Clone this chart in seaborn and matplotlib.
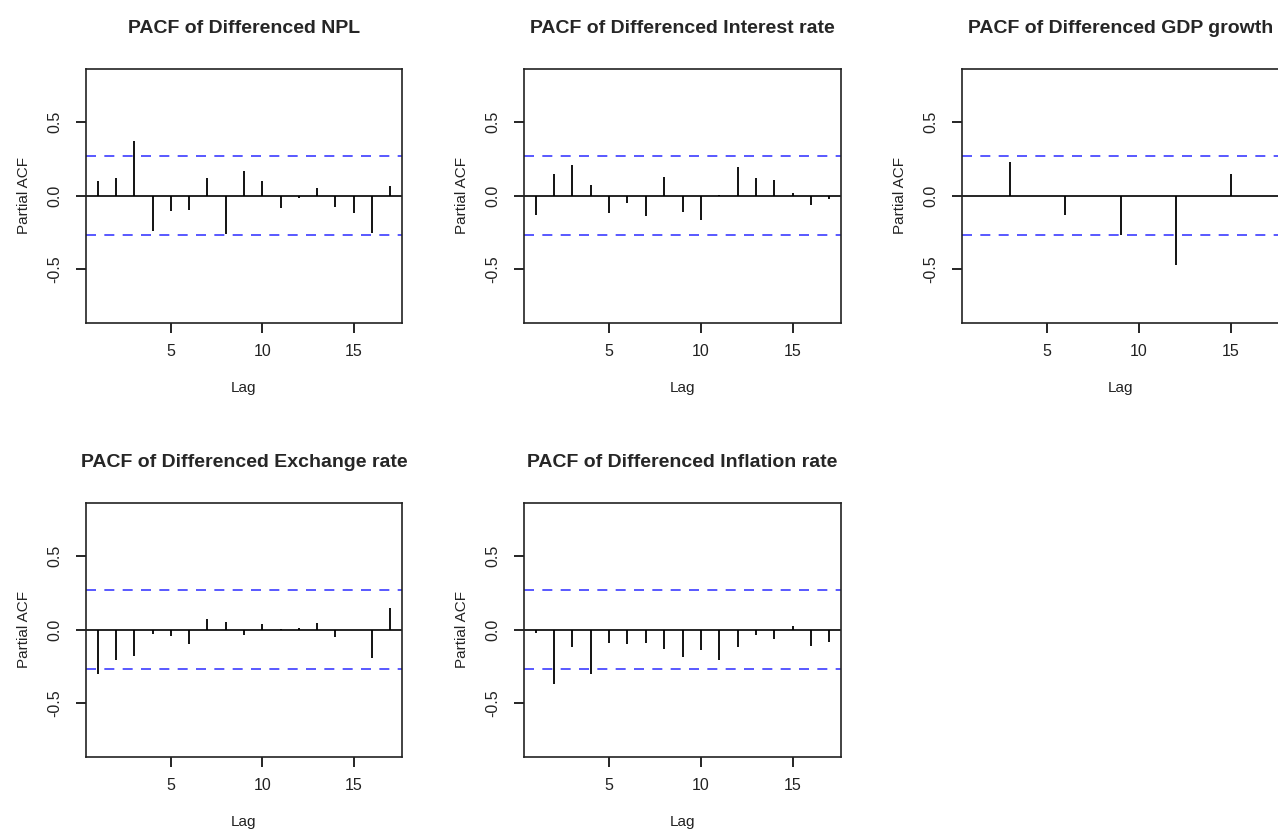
import matplotlib
matplotlib.use('Agg')
import matplotlib.pyplot as plt
import seaborn as sns
import pandas as pd

sns.set_style('ticks')
plt.rcParams['font.family'] = ['Liberation Sans', 'DejaVu Sans']

lags = list(range(1, 18))

# partial autocorrelations
npl = [0.10, 0.12, 0.37, -0.24, -0.10, -0.095, 0.12, -0.26, 0.165, 0.10,
       -0.08, -0.015, 0.05, -0.075, -0.12, -0.25, 0.065]
interest = [-0.13, 0.15, 0.21, 0.07, -0.12, -0.05, -0.14, 0.125, -0.11, -0.165,
            0.002, 0.195, 0.12, 0.11, 0.02, -0.065, -0.02]
gdp = [0.0, 0.0, 0.23, 0.0, 0.0, -0.13, 0.0, 0.0, -0.267, 0.0,
       0.0, -0.47, 0.0, 0.0, 0.15, 0.0, 0.0]
exchange = [-0.30, -0.205, -0.175, -0.03, -0.045, -0.097, 0.072, 0.052, -0.036, 0.04,
            0.007, 0.01, 0.047, -0.05, 0.0, -0.19, 0.15]
inflation = [-0.02, -0.37, -0.12, -0.30, -0.088, -0.097, -0.088, -0.127, -0.185, -0.14,
             -0.205, -0.115, -0.038, -0.06, 0.027, -0.108, -0.08]

titles = ['PACF of Differenced NPL', 'PACF of Differenced Interest rate',
          'PACF of Differenced GDP growth', 'PACF of Differenced Exchange rate',
          'PACF of Differenced Inflation rate']
series = [npl, interest, gdp, exchange, inflation]
ci = 0.267

W, H = 1278, 835
fig = plt.figure(figsize=(W / 100, H / 100), dpi=100)

# axes boxes in pixels: left, top, right, bottom
boxes = [(86, 69, 402, 323), (524, 69, 841, 323), (962, 69, 1279, 323),
         (86, 503, 402, 757), (524, 503, 841, 757)]

for title, vals, (l, t, r, b) in zip(titles, series, boxes):
    ax = fig.add_axes([l / W, (H - b) / H, (r - l) / W, (b - t) / H])
    df = pd.DataFrame({'Lag': lags, 'pacf': vals})
    ax.vlines(df['Lag'], 0, df['pacf'], color='black', linewidth=1.3)
    ax.axhline(0, color='black', linewidth=1.2)
    for y in (ci, -ci):
        ax.axhline(y, color='#3c3cff', linewidth=1.2, linestyle=(0, (6, 5)))
    ax.set_xlim(0.36, 17.64)
    ax.set_ylim(-0.863, 0.86)
    ax.set_xticks([5, 10, 15])
    ax.set_yticks([-0.5, 0.0, 0.5])
    ax.set_yticklabels(['-0.5', '0.0', '0.5'], rotation=90, va='center')
    ax.tick_params(axis='both', direction='out', length=7, width=1.2,
                   labelsize=11.5, pad=8, color='black', labelcolor='#222222')
    ax.tick_params(axis='y', pad=10)
    for s in ax.spines.values():
        s.set_linewidth(1.2)
        s.set_color('#222222')
    ax.set_xlabel('Lag', fontsize=11, labelpad=16, color='#222222')
    ax.set_ylabel('Partial ACF', fontsize=11, labelpad=12, color='#222222')
    ax.set_title(title, fontsize=14, fontweight='bold', pad=26)

fig.savefig('out.png', dpi=100)
